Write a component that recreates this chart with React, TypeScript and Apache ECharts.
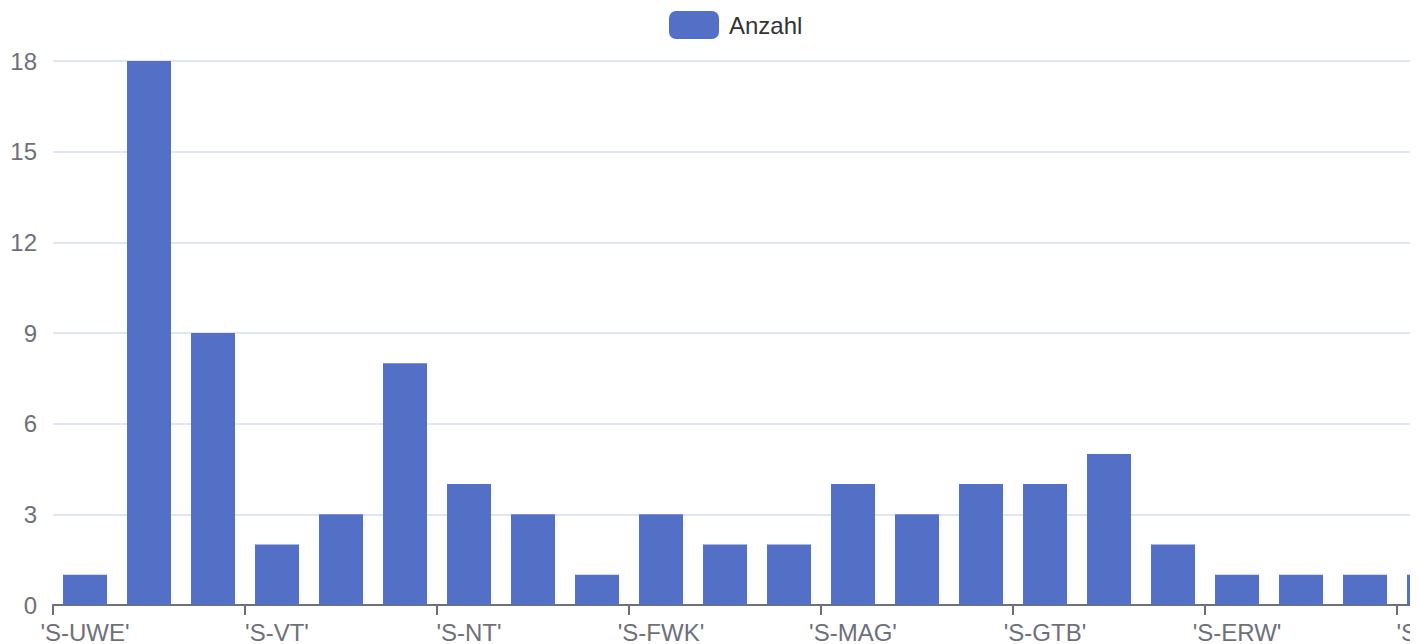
import React, { useEffect, useRef } from "react";
import * as echarts from "echarts";

const categories = [
  "'S-UWE'", "'S-AB'", "'S-BR'",
  "'S-VT'", "'S-KL'", "'S-PR'",
  "'S-NT'", "'S-WS'", "'S-HB'",
  "'S-FWK'", "'S-LG'", "'S-TR'",
  "'S-MAG'", "'S-KS'", "'S-ZE'",
  "'S-GTB'", "'S-RD'", "'S-MU'",
  "'S-ERW'", "'S-OS'", "'S-DE'",
  "'S-HT'",
];
const counts = [1, 18, 9, 2, 3, 8, 4, 3, 1, 3, 2, 2, 4, 3, 4, 4, 5, 2, 1, 1, 1, 1];
const seriesName = "Anzahl";
const yMax = 18;
const yStep = 3;

const FONT = "'Liberation Sans', Arial, sans-serif";

export default function App() {
  const ref = useRef<HTMLDivElement>(null);
  useEffect(() => {
    if (!ref.current) return;
    const chart = echarts.init(ref.current, undefined, { renderer: "svg" });
    chart.setOption({
      animation: false,
      textStyle: { fontFamily: FONT },
      legend: {
        data: [seriesName],
        top: 11,
        left: 669,
        padding: 0,
        itemWidth: 50,
        itemHeight: 28,
        itemGap: 20,
        textStyle: { fontSize: 24, color: "#333", fontFamily: FONT, padding: [0, 0, 0, 5] },
      },
      grid: { left: 53, top: 61, right: 10, bottom: 55, containLabel: false },
      xAxis: {
        type: "category",
        data: categories,
        axisLine: { lineStyle: { color: "#6E7079", width: 2 } },
        axisTick: { show: true, length: 10, lineStyle: { color: "#6E7079", width: 2 } },
        axisLabel: { interval: 2, fontSize: 24, margin: 15, color: "#6E7079", fontFamily: FONT },
      },
      yAxis: {
        type: "value",
        min: 0,
        max: yMax,
        interval: yStep,
        axisLabel: { fontSize: 24, margin: 16, color: "#6E7079", fontFamily: FONT },
        splitLine: { lineStyle: { color: "#E0E6F1", width: 2 } },
      },
      series: [
        {
          name: seriesName,
          type: "bar",
          data: counts,
          barWidth: 44,
          itemStyle: { color: "#5470c6" },
        },
      ],
    });
    return () => chart.dispose();
  }, []);
  return (
    <div
      style={{
        position: "fixed",
        left: 0,
        top: 0,
        width: 1410,
        height: 644,
        overflow: "hidden",
        background: "#fff",
      }}
    >
      <div
        ref={ref}
        style={{ position: "absolute", left: 0, top: 0, width: 1471, height: 660 }}
      />
    </div>
  );
}
